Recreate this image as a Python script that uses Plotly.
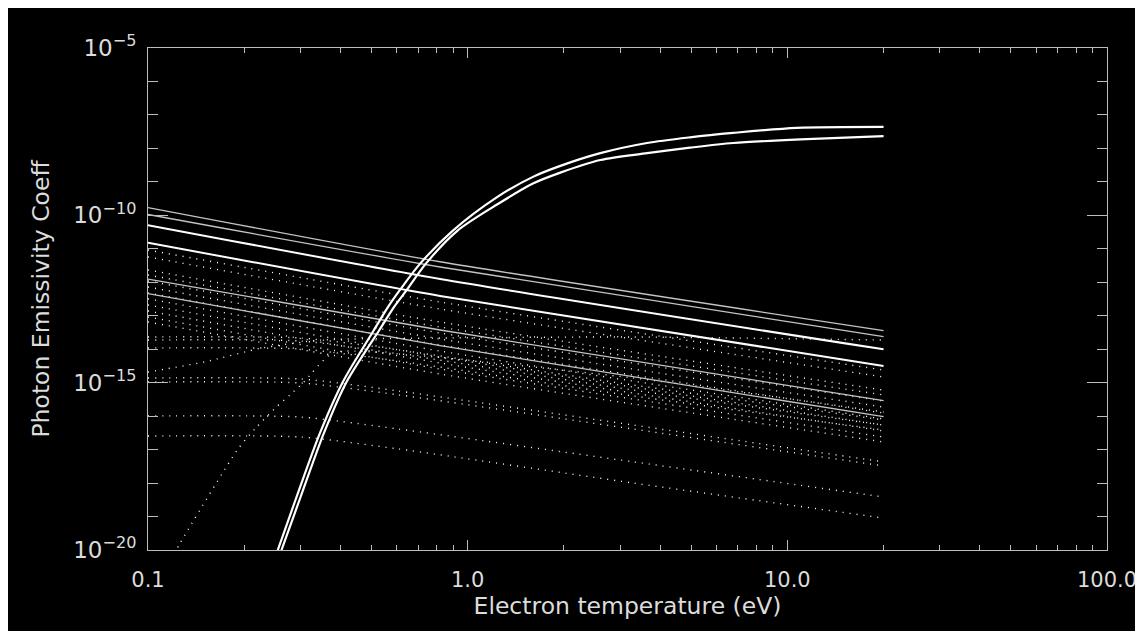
import plotly.graph_objects as go

# ---------------- data ----------------
T_line = [0.1, 0.82, 20.0]
# solid, nearly straight lines (values at T_line)
solid_1 = [1.71e-10, 4.1e-12, 3.6e-14]
solid_2 = [1.06e-10, 2.86e-12, 2.37e-14]
solid_3 = [5.1e-11, 1.25e-12, 9.9e-15]
solid_4 = [1.52e-11, 3.89e-13, 3.15e-15]
solid_5 = [1.25e-12, 3.75e-14, 2.89e-16]
solid_6 = [4.6e-13, 1.27e-14, 9.6e-17]

# dotted band lines (values at T_line)
band_1 = [9.2e-12, 2.57e-13, 2.39e-15]
band_2 = [5.7e-12, 1.59e-13, 1.48e-15]
band_3 = [2.33e-12, 6.5e-14, 6.0e-16]
band_4 = [1.65e-12, 4.6e-14, 4.3e-16]
band_5 = [1.09e-12, 3.05e-14, 2.83e-16]
band_6 = [7.2e-13, 2.02e-14, 1.87e-16]
band_7 = [4.8e-13, 1.34e-14, 1.24e-16]
band_8 = [3.2e-13, 8.8e-15, 8.2e-17]
band_9 = [2.1e-13, 5.85e-15, 5.4e-17]
band_10 = [1.38e-13, 3.87e-15, 3.6e-17]
band_11 = [9.2e-14, 2.56e-15, 2.38e-17]
band_12 = [6.5e-14, 1.82e-15, 1.69e-17]

# dotted lower lines, flat at first (values at T_low)
T_low = [0.1, 0.3, 0.61, 3.3, 20.0]
low_a = [2.32e-14, 2.16e-14, 9.5e-15, 8.5e-16, 7.7e-17]
low_b = [1.88e-14, 1.76e-14, 7.2e-15, 6.0e-16, 5.4e-17]
low_c = [1.09e-14, 1.01e-14, 4.4e-15, 4.0e-16, 3.85e-17]
low_d = [1.38e-15, 1.29e-15, 5.6e-16, 5.4e-17, 4.3e-18]
low_e = [1.05e-15, 9.8e-16, 4.3e-16, 4.1e-17, 3.24e-18]
low_f = [1.01e-16, 9.4e-17, 4.1e-17, 4.3e-18, 3.84e-19]
low_g = [2.55e-17, 2.38e-17, 1.04e-17, 1.0e-18, 9.0e-20]

# dotted rising curves
T_steep = [0.118, 0.1259, 0.1903, 0.2162, 0.2514, 0.278, 0.3054, 0.379, 0.61, 3.3, 20.0]
steep = [5e-21, 1.58e-20, 9.8e-18, 4.2e-17, 1.82e-16, 4.3e-16, 9.8e-16, 7.8e-15, 7.2e-15, 1.38e-15, 1.33e-16]
T_gentle = [0.1, 0.15, 0.2278, 0.35, 0.82, 3.3, 20.0]
gentle = [2.08e-15, 4.15e-15, 1.09e-14, 1.88e-14, 2.16e-14, 2.32e-14, 1.88e-14]

# solid rising curves
T_up = [0.2547, 0.2917, 0.345, 0.408, 0.507, 0.565, 0.614, 0.71, 0.899, 1.236, 1.6, 1.94,
        2.6, 3.64, 4.96, 6.77, 10.7, 20.0]
rise_up = [1.0e-20, 3.9e-19, 3.1e-17, 1.1e-15, 3.5e-14, 1.9e-13, 5.9e-13, 3.6e-12, 3.5e-11, 3.5e-10,
           1.41e-9, 2.95e-9, 7.2e-9, 1.45e-8, 2.14e-8, 2.9e-8, 4.1e-8, 4.4e-8]
T_lo = [0.2616, 0.3003, 0.355, 0.419, 0.527, 0.59, 0.645, 0.74, 0.93, 1.236, 1.6, 1.94,
        2.6, 3.64, 4.96, 6.77, 11.5, 20.0]
rise_lo = [1.0e-20, 3.9e-19, 3.1e-17, 1.1e-15, 3.5e-14, 1.9e-13, 5.9e-13, 3.6e-12, 3.5e-11, 2.1e-10,
           8.9e-10, 1.86e-9, 4.5e-9, 7.2e-9, 1.05e-8, 1.45e-8, 1.9e-8, 2.34e-8]

x_tickvals = [0.1, 1, 10, 100]
x_ticktext = ["0.1", "1.0", "10.0", "100.0"]
y_tickvals = [1e-20, 1e-15, 1e-10, 1e-5]
y_ticktext = ["10<sup>\u221220</sup>", "10<sup>\u221215</sup>", "10<sup>\u221210</sup>", "10<sup>\u22125</sup>"]
x_minor = [0.2, 0.3, 0.4, 0.5, 0.6, 0.7, 0.8, 0.9, 2, 3, 4, 5, 6, 7, 8, 9, 20, 30, 40, 50, 60, 70, 80, 90]
y_minor = [1e-19, 1e-18, 1e-17, 1e-16, 1e-14, 1e-13, 1e-12, 1e-11, 1e-9, 1e-8, 1e-7, 1e-6]

# ---------------- figure ----------------
fig = go.Figure()
DOT = "1px,6px"

dotted = [(T_line, v) for v in [band_1, band_2, band_3, band_4, band_5, band_6, band_7,
                                band_8, band_9, band_10, band_11, band_12]]
dotted += [(T_low, v) for v in [low_a, low_b, low_c, low_d, low_e, low_f, low_g]]
dotted += [(T_steep, steep), (T_gentle, gentle)]
for xs, ys in dotted:
    fig.add_trace(go.Scatter(x=xs, y=ys, mode="lines",
                             line=dict(color="white", width=1.4, dash=DOT,
                                       shape="spline", smoothing=0.6),
                             showlegend=False, hoverinfo="skip"))

for ys, col, w in [(solid_1, "#c4c4c4", 1.3), (solid_2, "#c4c4c4", 1.3),
                   (solid_3, "white", 2), (solid_4, "white", 2),
                   (solid_5, "#c4c4c4", 1.3), (solid_6, "#c4c4c4", 1.3)]:
    fig.add_trace(go.Scatter(x=T_line, y=ys, mode="lines",
                             line=dict(color=col, width=w, shape="spline", smoothing=0.6),
                             showlegend=False, hoverinfo="skip"))

for xs, ys in [(T_up, rise_up), (T_lo, rise_lo)]:
    fig.add_trace(go.Scatter(x=xs, y=ys, mode="lines",
                             line=dict(color="white", width=2.2, shape="spline", smoothing=0.8),
                             showlegend=False, hoverinfo="skip"))

x_tick_font = dict(family="DejaVu Sans", size=21, color="#dcdcdc")
y_tick_font = dict(family="DejaVu Sans", size=23, color="#dcdcdc")
title_font = dict(family="DejaVu Sans", size=23.5, color="#dcdcdc")
axis_common = dict(type="log", showgrid=False, zeroline=False, showline=True,
                   linecolor="#bdbdbd", linewidth=1, mirror="allticks",
                   ticks="inside", tickcolor="#bdbdbd", tickwidth=1,
                   automargin=False)

fig.update_xaxes(**axis_common, range=[-1, 2], tickvals=x_tickvals, ticktext=x_ticktext,
                 tickfont=x_tick_font, ticklen=10, ticklabelstandoff=11,
                 minor=dict(tickvals=x_minor, ticks="inside", ticklen=5, tickcolor="#bdbdbd", tickwidth=1),
                 title=dict(text="Electron temperature (eV)", font=title_font, standoff=6))
fig.update_yaxes(**axis_common, range=[-20, -5], tickvals=y_tickvals, ticktext=y_ticktext,
                 tickfont=y_tick_font, ticklen=20, ticklabelstandoff=6,
                 minor=dict(tickvals=y_minor, ticks="inside", ticklen=10, tickcolor="#bdbdbd", tickwidth=1),
                 title=dict(text="Photon Emissivity Coeff", font=title_font, standoff=16))

fig.update_layout(
    width=1135, height=623,
    margin=dict(l=140, r=36, t=40, b=81),
    paper_bgcolor="black", plot_bgcolor="black",
    font=y_tick_font,
)

fig.write_html("out.html")
